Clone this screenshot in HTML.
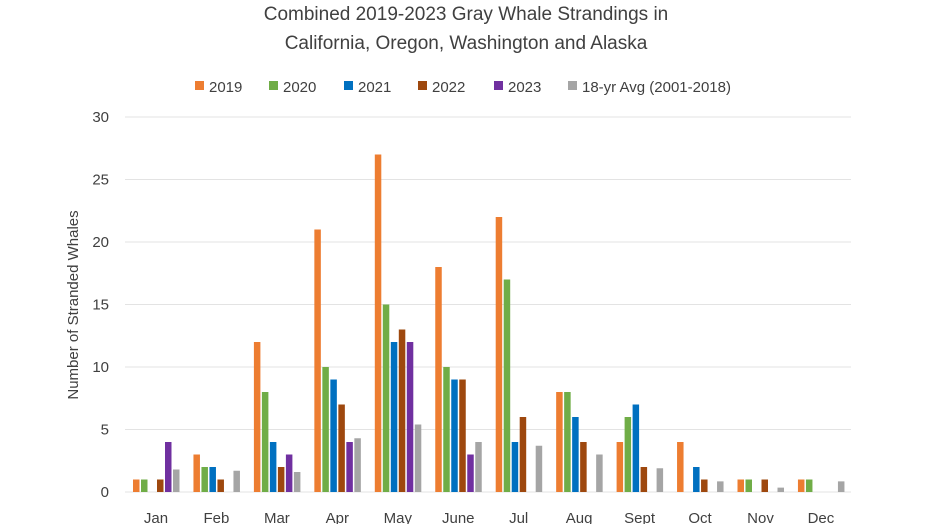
<!DOCTYPE html>
<html><head><meta charset="utf-8"><style>
html,body{margin:0;padding:0;background:#fff;}
svg text{font-family:"Liberation Sans",sans-serif;fill:#404040;}
</style></head><body>
<svg id="s" width="932" height="524" xmlns="http://www.w3.org/2000/svg">
<text x="466" y="20" text-anchor="middle" font-size="19">Combined 2019-2023 Gray Whale Strandings in</text>
<text x="466" y="49" text-anchor="middle" font-size="19">California, Oregon, Washington and Alaska</text>
<g font-size="15">
<rect x="195" y="81" width="9" height="9" fill="#ed7d31"/><text x="209" y="92">2019</text>
<rect x="269" y="81" width="9" height="9" fill="#70ad47"/><text x="283" y="92">2020</text>
<rect x="344" y="81" width="9" height="9" fill="#0070c0"/><text x="358" y="92">2021</text>
<rect x="418" y="81" width="9" height="9" fill="#9e480e"/><text x="432" y="92">2022</text>
<rect x="494" y="81" width="9" height="9" fill="#7030a0"/><text x="508" y="92">2023</text>
<rect x="568" y="81" width="9" height="9" fill="#a5a5a5"/><text x="582" y="92">18-yr Avg (2001-2018)</text>
</g>
<text transform="translate(78,305) rotate(-90)" text-anchor="middle" font-size="15">Number of Stranded Whales</text>
</svg>
<script>
var s=document.getElementById('s'),ns='http://www.w3.org/2000/svg';
function el(t,a,txt){var e=document.createElementNS(ns,t);for(var k in a)e.setAttribute(k,a[k]);if(txt!=null)e.textContent=txt;s.appendChild(e);return e;}
var y0=492,u=12.5;
for(var v=0;v<=30;v+=5){var y=y0-v*u;el('line',{x1:125,x2:851,y1:y,y2:y,stroke:'#e3e3e3','stroke-width':1});
el('text',{x:109,y:y+5,'text-anchor':'end','font-size':15},v);}
var cols=['#ed7d31','#70ad47','#0070c0','#9e480e','#7030a0','#a5a5a5'];
var m=['Jan','Feb','Mar','Apr','May','June','Jul','Aug','Sept','Oct','Nov','Dec'];
var d=[[1,1,0,1,4,1.8],[3,2,2,1,0,1.7],[12,8,4,2,3,1.6],[21,10,9,7,4,4.3],[27,15,12,13,12,5.4],[18,10,9,9,3,4],[22,17,4,6,0,3.7],[8,8,6,4,0,3],[4,6,7,2,0,1.9],[4,0,2,1,0,0.85],[1,1,0,1,0,0.35],[1,1,0,0,0,0.85]];
for(var i=0;i<12;i++){var c=156+i*60.45;
for(var j=0;j<6;j++){var h=d[i][j]*u;if(h>0)el('rect',{x:c-23+j*8,y:y0-h,width:6.5,height:h,fill:cols[j]});}
el('text',{x:c,y:523,'text-anchor':'middle','font-size':15},m[i]);}
</script>
</body></html>
